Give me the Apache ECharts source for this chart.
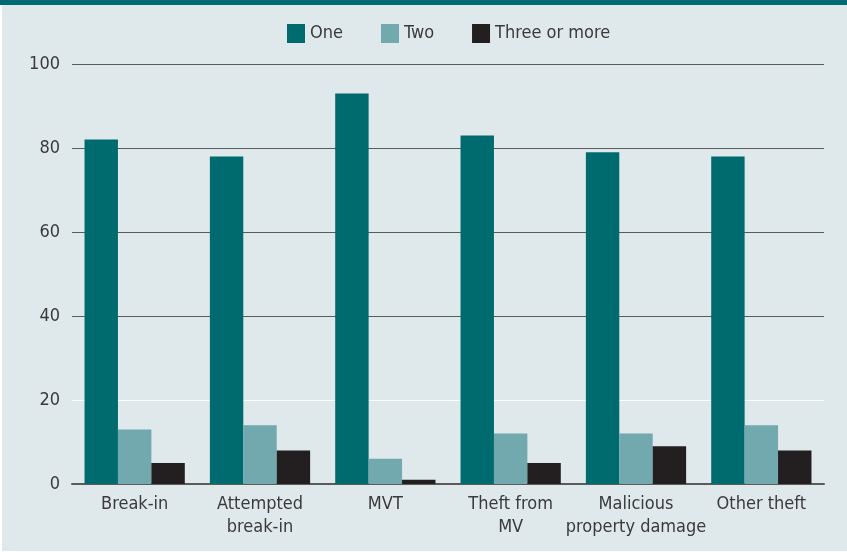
<!DOCTYPE html>
<html>
<head>
<meta charset="utf-8">
<script src="https://cdn.jsdelivr.net/npm/echarts@6/dist/echarts.min.js"></script>
<style>
html,body{margin:0;padding:0;background:#ffffff;}
#wrap{position:absolute;left:2px;top:0;width:845px;height:551px;background:#dfe9eb;}
#bar{position:absolute;left:0;top:0;width:847px;height:5px;background:#006b70;}
#chart{position:absolute;left:0;top:0;width:847px;height:552px;}
</style>
</head>
<body>
<div id="wrap"></div>
<div id="bar"></div>
<div id="chart"></div>
<script>
var categories = ['Break-in', 'Attempted\nbreak-in', 'MVT', 'Theft from\nMV', 'Malicious\nproperty damage', 'Other theft'];
var seriesNames = ['One', 'Two', 'Three or more'];
var one = [82, 78, 93, 83, 79, 78];
var two = [13, 14, 6, 12, 12, 14];
var threeOrMore = [5, 8, 1, 5, 9, 8];
var yTicks = [0, 20, 40, 60, 80, 100];

var font = '"DejaVu Sans Condensed", "Liberation Sans Narrow", sans-serif';
var chart = echarts.init(document.getElementById('chart'), null, {renderer: 'canvas'});
chart.setOption({
  backgroundColor: 'transparent',
  animation: false,
  legend: {
    top: 24,
    left: 287,
    padding: 0,
    icon: 'rect',
    itemWidth: 18,
    itemHeight: 19,
    itemGap: 38,
    textStyle: {fontFamily: font, fontSize: 18, color: '#3a3a3a'},
    data: seriesNames
  },
  grid: {left: 72, right: 23, top: 64, bottom: 68, containLabel: false},
  xAxis: {
    type: 'category',
    data: categories,
    axisLine: {show: true, lineStyle: {color: '#5a5c5c', width: 2}},
    axisTick: {show: false},
    axisLabel: {fontFamily: font, fontSize: 18, color: '#3a3a3a', margin: 9, lineHeight: 23, interval: 0}
  },
  yAxis: {
    type: 'value',
    min: yTicks[0],
    max: yTicks[yTicks.length - 1],
    interval: 20,
    axisLine: {show: false},
    axisTick: {show: false},
    axisLabel: {fontFamily: font, fontSize: 18, color: '#3a3a3a', margin: 12},
    splitLine: {show: true, lineStyle: {color: ['#5a5c5c', '#ffffff', '#5a5c5c', '#5a5c5c', '#5a5c5c', '#5a5c5c'], width: 1}}
  },
  series: [
    {name: seriesNames[0], type: 'bar', data: one, itemStyle: {color: '#006b6e'}, barGap: '0%', barCategoryGap: '20%'},
    {name: seriesNames[1], type: 'bar', data: two, itemStyle: {color: '#72a9ae'}, barGap: '0%', barCategoryGap: '20%'},
    {name: seriesNames[2], type: 'bar', data: threeOrMore, itemStyle: {color: '#231f20'}, barGap: '0%', barCategoryGap: '20%'}
  ]
});
</script>
</body>
</html>
